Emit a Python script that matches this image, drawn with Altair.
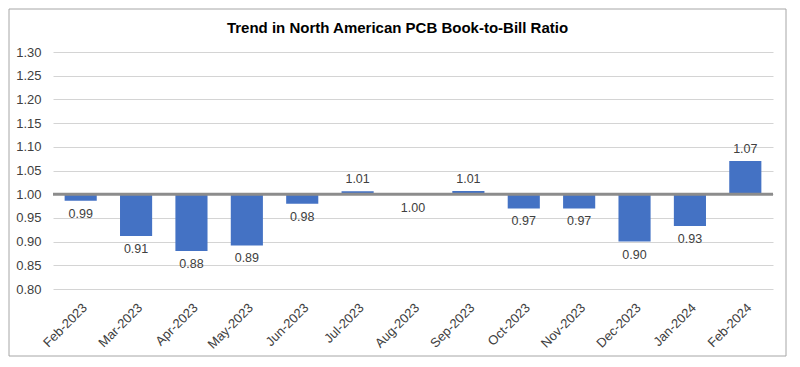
import altair as alt
import pandas as pd

months = ["Feb-2023", "Mar-2023", "Apr-2023", "May-2023", "Jun-2023", "Jul-2023",
          "Aug-2023", "Sep-2023", "Oct-2023", "Nov-2023", "Dec-2023", "Jan-2024", "Feb-2024"]
ratios = [0.986, 0.912, 0.880, 0.892, 0.980, 1.006, 0.999, 1.007, 0.970, 0.970, 0.900, 0.933, 1.070]
y_ticks = [0.80, 0.85, 0.90, 0.95, 1.00, 1.05, 1.10, 1.15, 1.20, 1.25, 1.30]
baseline = 1.0

df = pd.DataFrame({"month": months, "ratio": ratios})
df["base"] = baseline
df["label"] = [f"{v:.2f}" for v in ratios]

FONT = "Liberation Sans"
W, H = 720, 237

x_scale = alt.Scale(paddingInner=0.42, paddingOuter=0.21)
y_scale = alt.Scale(domain=[0.8, 1.3], nice=False, zero=False)

x_axis = alt.Axis(labelAngle=-45, labelFontSize=13, labelColor="#404040",
                  labelFont=FONT, domain=False, ticks=False, labelPadding=12,
                  labelAlign="right", labelBaseline="top", labelOverlap=False, title=None)
y_axis = alt.Axis(values=y_ticks, format=".2f", labelFontSize=13, labelColor="#404040",
                  labelFont=FONT, domain=False, ticks=False, labelPadding=12,
                  labelOverlap=False, grid=True, gridColor="#d4d4d4", gridWidth=1, title=None)

X = alt.X("month:N", sort=months, scale=x_scale, axis=x_axis, title=None)

bars = alt.Chart(df).mark_bar(color="#4472C4").encode(
    x=X,
    y=alt.Y("ratio:Q", scale=y_scale, axis=y_axis, title=None),
    y2="base:Q",
)

base_line = alt.Chart(pd.DataFrame({"b": [baseline]})).mark_rule(
    color="#8c8c8c", strokeWidth=3).encode(
    y=alt.Y("b:Q", scale=y_scale, axis=y_axis, title=None))

above = alt.Chart(df).transform_filter("datum.ratio > 1").mark_text(
    baseline="bottom", dy=-5, fontSize=12.5, font=FONT, color="#404040").encode(
    x=X, y=alt.Y("ratio:Q", scale=y_scale, axis=y_axis, title=None), text="label:N")

below = alt.Chart(df).transform_filter("datum.ratio <= 1").mark_text(
    baseline="top", dy=7, fontSize=12.5, font=FONT, color="#404040").encode(
    x=X, y=alt.Y("ratio:Q", scale=y_scale, axis=y_axis, title=None), text="label:N")

border = alt.Chart(pd.DataFrame({"a": [0]})).mark_rect(
    fill=None, stroke="#a6a6a6", strokeWidth=1, clip=False).encode(
    x=alt.value(-44), x2=alt.value(733), y=alt.value(-43), y2=alt.value(304))

chart = alt.layer(bars, base_line, above, below, border).properties(
    width=W, height=H,
    autosize=alt.AutoSizeParams(type="none"),
    padding={"left": 45, "top": 44, "right": 14, "bottom": 68},
    background="white",
    title=alt.TitleParams("Trend in North American PCB Book-to-Bill Ratio",
                          font=FONT, fontSize=15, fontWeight="bold", color="#000000",
                          anchor="middle", frame="bounds", offset=-27),
).configure_view(stroke=None)

chart.save("out.html", embed_options={"renderer": "svg", "actions": False})
